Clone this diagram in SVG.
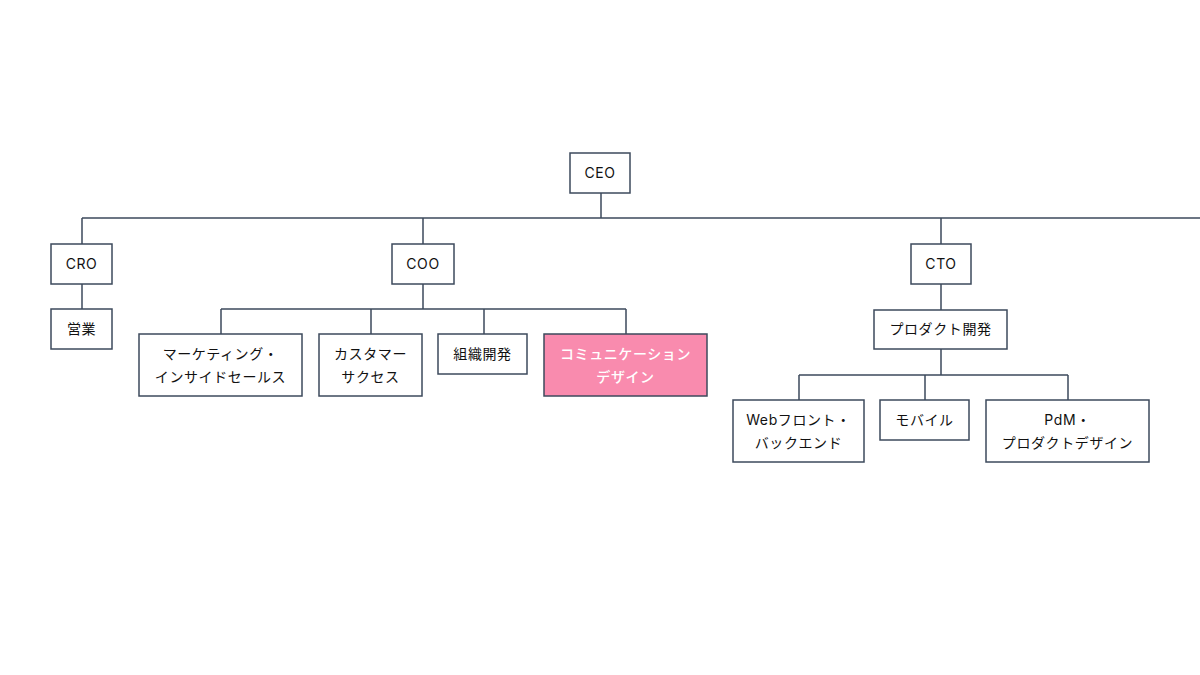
<svg xmlns="http://www.w3.org/2000/svg" width="1200" height="675" viewBox="0 0 1200 675">
<style>
.b{fill:#fff;stroke:#3d4a5c;stroke-width:1.5}
.h{fill:#f98bae;stroke:#3d4a5c;stroke-width:1.5}
.c{fill:none;stroke:#3d4a5c;stroke-width:1.5}
text{font-family:"Inter","Noto Sans CJK JP",sans-serif;font-size:14px;fill:#111;text-anchor:middle;letter-spacing:0.6px}
.w{fill:#fff;font-weight:500}
</style>
<rect width="1200" height="675" fill="#fff"/>
<g id="connectors">
<path class="c" d="M601 193V218M82 218H1200M82 218V244M423 218V244M941 218V244"/>
<path class="c" d="M82 284V309"/>
<path class="c" d="M423 284V309M221 309H626M221 309V334M371 309V334M484 309V334M626 309V334"/>
<path class="c" d="M941 284V310M941 349V375M799 375H1068M799 375V400M925 375V400M1068 375V400"/>
</g>
<g id="ceo"><rect class="b" x="570" y="153" width="60" height="40"/><text x="600" y="178">CEO</text></g>
<g id="cro"><rect class="b" x="51" y="244" width="61" height="40"/><text x="81.500" y="269">CRO</text></g>
<g id="sales"><rect class="b" x="51" y="309" width="61" height="40"/><text x="81.500" y="334">営業</text></g>
<g id="coo"><rect class="b" x="392" y="244" width="62" height="40"/><text x="423" y="269">COO</text></g>
<g id="marketing"><rect class="b" x="139" y="334" width="163" height="62"/><text x="220.500" y="359">マーケティング・</text><text x="220.500" y="382">インサイドセールス</text></g>
<g id="cs"><rect class="b" x="319" y="334" width="103" height="62"/><text x="370.500" y="359">カスタマー</text><text x="370.500" y="382">サクセス</text></g>
<g id="od"><rect class="b" x="438" y="334" width="89" height="40"/><text x="482.500" y="359">組織開発</text></g>
<g id="comm"><rect class="h" x="544" y="334" width="163" height="62"/><text class="w" x="625.500" y="359">コミュニケーション</text><text class="w" x="625.500" y="382">デザイン</text></g>
<g id="cto"><rect class="b" x="911" y="244" width="60" height="40"/><text x="941" y="269">CTO</text></g>
<g id="product"><rect class="b" x="874" y="310" width="133" height="39"/><text x="940.500" y="334">プロダクト開発</text></g>
<g id="web"><rect class="b" x="733" y="400" width="131" height="62"/><text x="798.500" y="425">Webフロント・</text><text x="798.500" y="448">バックエンド</text></g>
<g id="mobile"><rect class="b" x="880" y="400" width="89" height="40"/><text x="924.500" y="425">モバイル</text></g>
<g id="pdm"><rect class="b" x="986" y="400" width="163" height="62"/><text x="1067.500" y="425">PdM・</text><text x="1067.500" y="448">プロダクトデザイン</text></g>
</svg>
